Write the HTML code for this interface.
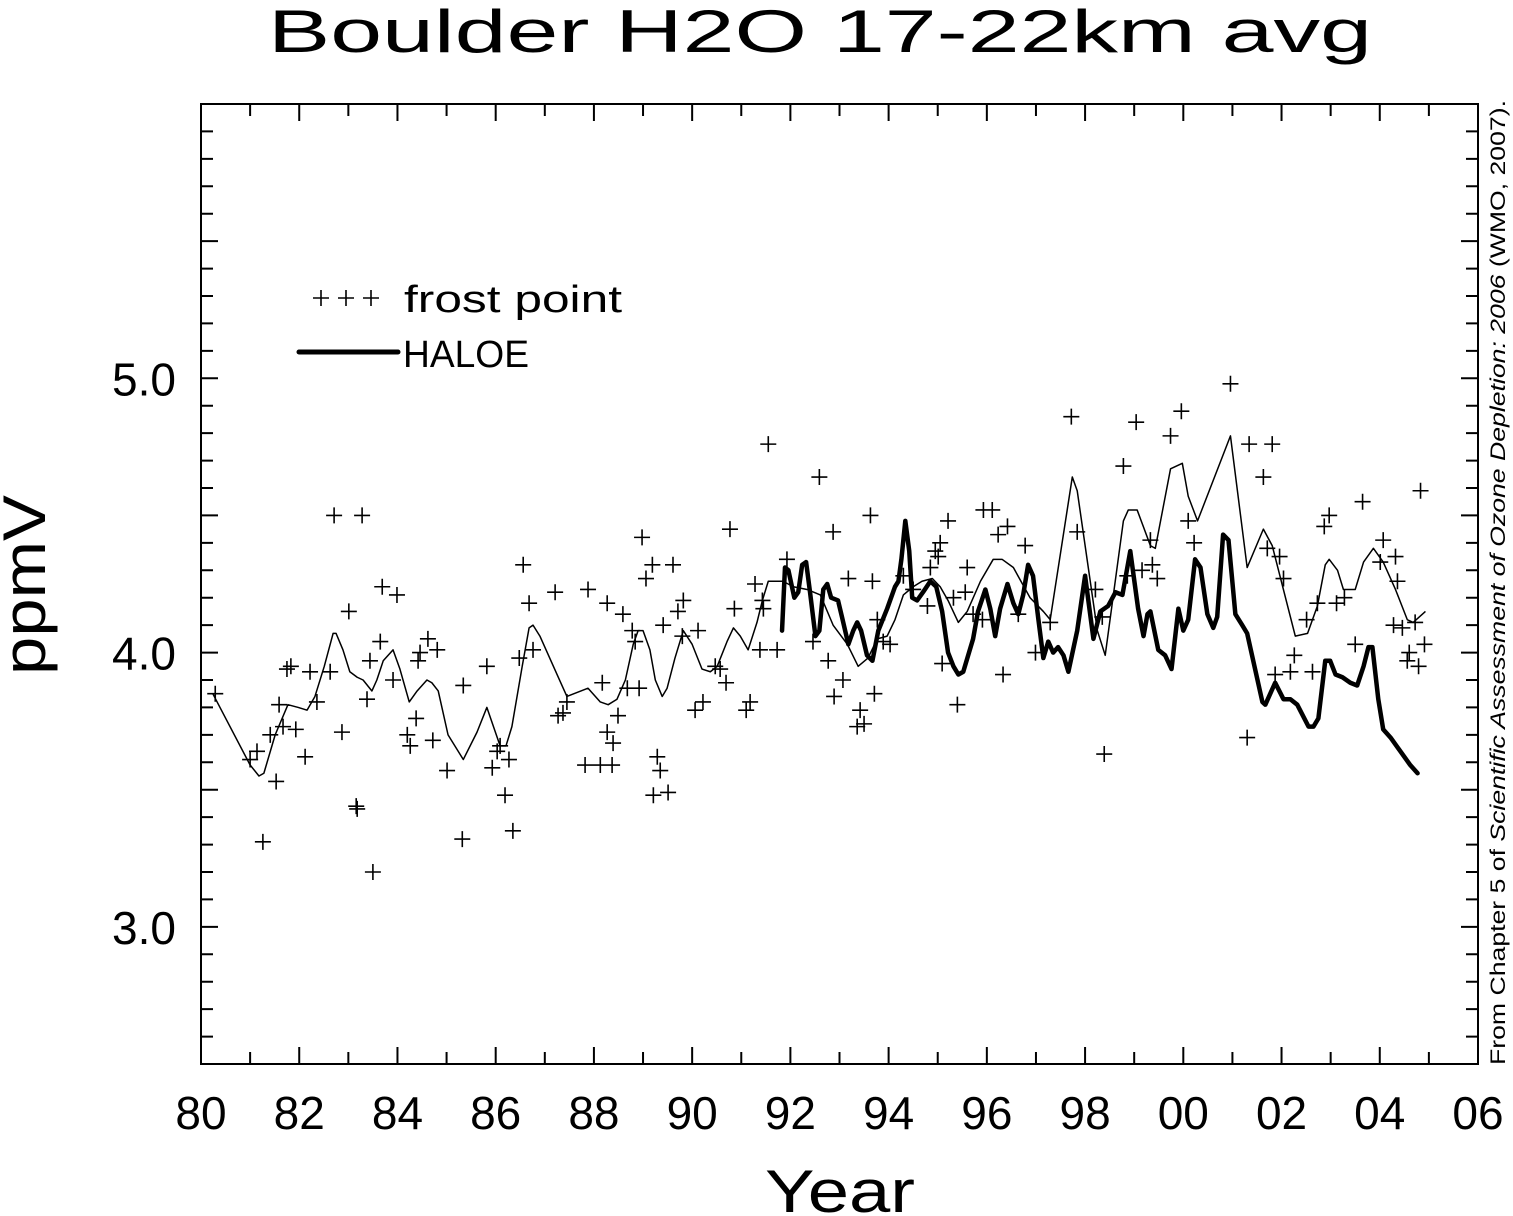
<!DOCTYPE html>
<html><head><meta charset="utf-8"><style>
html,body{margin:0;padding:0;background:#fff;}
svg{display:block;font-family:"Liberation Sans",sans-serif;}
</style></head><body>
<svg id="chart" width="1513" height="1216" viewBox="0 0 1513 1216" xmlns="http://www.w3.org/2000/svg">
<rect width="1513" height="1216" fill="#fff"/>
<text x="820" y="52" font-size="60" text-anchor="middle" textLength="1104" lengthAdjust="spacingAndGlyphs" fill="#000">Boulder H2O  17-22km avg</text>
<g id="axes"></g>
<g id="series"></g>
<text x="840" y="1212" font-size="60" text-anchor="middle" textLength="150" lengthAdjust="spacingAndGlyphs">Year</text>
<text transform="translate(45,585) rotate(-90)" font-size="60" text-anchor="middle" textLength="180" lengthAdjust="spacingAndGlyphs">ppmV</text>
<text transform="translate(1505,1065) rotate(-90)" font-size="21" textLength="965" lengthAdjust="spacingAndGlyphs">From Chapter 5 of <tspan font-style="italic">Scientific Assessment of Ozone Depletion: 2006</tspan> (WMO, 2007).</text>
<g>
  <g stroke="#000" stroke-width="1.6">
    <path d="M313 298h16M321 290v16M338 298h16M346 290v16M363 298h16M371 290v16"/>
  </g>
  <text x="404" y="312" font-size="38" textLength="218" lengthAdjust="spacingAndGlyphs">frost point</text>
  <line x1="299" y1="352" x2="398" y2="352" stroke="#000" stroke-width="5" stroke-linecap="round"/>
  <text x="403" y="367" font-size="38" textLength="126" lengthAdjust="spacingAndGlyphs">HALOE</text>
</g>
</svg>
<script>
const xTickYears=[80,82,84,86,88,90,92,94,96,98,100,102,104,106];
const xTickLabels=["80","82","84","86","88","90","92","94","96","98","00","02","04","06"];
const yTickValues=[3.0,4.0,5.0];
const yTickLabels=["3.0","4.0","5.0"];
const frostYears=[80.29,81.00,81.14,81.26,81.41,81.53,81.59,81.67,81.75,81.83,81.93,82.12,82.22,82.36,82.71,82.87,82.63,83.16,83.28,83.69,83.99,83.01,83.38,83.44,83.65,83.91,83.50,83.18,84.42,84.46,84.62,84.81,84.38,84.20,84.26,84.72,85.01,85.34,85.32,85.82,85.93,86.03,86.09,86.27,86.19,86.35,86.48,86.68,86.56,86.76,87.21,87.27,87.37,87.82,87.88,87.45,88.17,88.13,88.27,88.37,88.39,88.27,88.49,88.59,88.78,88.84,88.68,88.92,88.98,89.06,89.19,89.61,89.41,89.82,89.71,89.80,90.12,90.47,90.57,90.69,90.22,90.06,90.77,90.86,91.18,91.10,91.28,91.43,91.45,91.38,91.73,91.55,91.93,89.29,89.35,89.21,89.51,92.59,92.46,92.77,93.07,92.89,92.87,93.18,93.42,93.50,93.36,93.71,93.63,93.67,93.77,93.89,94.03,94.30,94.50,94.79,94.85,94.95,95.05,95.01,95.21,95.32,95.60,95.56,95.72,95.09,95.40,95.93,96.11,96.23,96.42,96.78,96.33,95.91,96.64,96.99,97.29,97.72,97.84,98.39,98.21,98.35,98.78,98.86,99.04,99.16,99.33,99.37,99.47,99.74,99.96,100.10,100.22,100.96,101.30,101.34,101.63,101.71,101.81,101.96,102.04,101.87,102.18,102.26,102.63,102.51,102.73,102.87,102.97,103.12,103.28,103.50,103.65,104.07,104.01,104.32,104.36,104.28,104.46,104.83,104.72,104.91,104.60,104.56,104.79];
const frostValues=[3.85,3.61,3.64,3.31,3.70,3.53,3.81,3.73,3.94,3.95,3.72,3.62,3.93,3.82,4.50,3.71,3.93,3.44,4.50,4.24,4.21,4.15,3.83,3.97,4.04,3.90,3.20,3.43,3.97,4.00,4.05,4.01,3.76,3.70,3.66,3.68,3.57,3.88,3.32,3.95,3.58,3.64,3.66,3.61,3.48,3.35,3.98,4.18,4.32,4.01,4.22,3.77,3.78,3.59,4.23,3.82,3.89,3.59,3.71,3.59,3.67,4.18,3.77,4.14,4.08,4.04,3.87,3.87,4.42,4.27,4.32,4.32,4.10,4.19,4.15,4.06,4.08,3.95,3.94,3.89,3.82,3.79,4.45,4.16,3.82,3.79,4.25,4.19,4.16,4.01,4.01,4.76,4.34,3.62,3.57,3.48,3.49,4.64,4.04,3.97,3.90,3.84,4.44,4.27,3.79,3.74,3.73,3.85,4.50,4.26,4.12,4.04,4.03,4.28,4.23,4.17,4.31,4.37,4.40,4.35,4.48,4.20,4.31,4.22,4.14,3.96,3.81,4.52,4.52,4.43,4.46,4.39,3.92,4.12,4.14,4.00,4.11,4.86,4.44,3.63,4.23,4.13,4.68,4.28,4.84,4.30,4.41,4.32,4.27,4.79,4.88,4.48,4.40,4.98,3.69,4.76,4.64,4.38,4.76,4.35,4.27,3.92,3.93,3.99,3.93,4.12,4.18,4.46,4.50,4.18,4.20,4.03,4.55,4.41,4.33,4.35,4.26,4.10,4.09,4.59,4.11,4.03,4.00,3.97,3.95];
const smoothYears=[80.24,81.00,81.18,81.28,81.51,81.77,81.98,82.16,82.32,82.51,82.69,82.75,82.89,83.03,83.18,83.30,83.48,83.58,83.71,83.91,84.05,84.24,84.40,84.60,84.70,84.83,85.03,85.34,85.62,85.82,86.09,86.21,86.33,86.54,86.68,86.76,86.90,87.25,87.45,87.88,88.13,88.29,88.47,88.64,88.80,88.90,89.00,89.14,89.25,89.39,89.49,89.65,89.82,90.00,90.20,90.37,90.51,90.71,90.84,90.98,91.14,91.32,91.43,91.55,91.85,92.06,92.34,92.61,92.87,93.16,93.38,93.58,93.77,93.97,94.13,94.30,94.50,94.68,94.89,95.05,95.21,95.42,95.60,95.87,96.13,96.31,96.54,96.88,97.15,97.29,97.74,97.84,98.25,98.41,98.78,98.88,99.06,99.33,99.43,99.74,99.98,100.10,100.29,100.96,101.30,101.63,101.81,102.28,102.53,102.73,102.89,102.97,103.14,103.26,103.50,103.67,103.87,104.07,104.32,104.56,104.68,104.93];
const smoothValues=[3.85,3.59,3.55,3.56,3.70,3.81,3.80,3.79,3.84,3.95,4.07,4.07,4.01,3.93,3.91,3.90,3.86,3.90,3.97,4.01,3.94,3.82,3.86,3.90,3.89,3.86,3.70,3.61,3.71,3.80,3.66,3.66,3.73,3.95,4.09,4.10,4.06,3.92,3.84,3.87,3.82,3.81,3.83,3.90,4.03,4.08,4.08,4.01,3.90,3.84,3.87,3.98,4.08,4.03,3.94,3.93,3.95,4.04,4.09,4.06,4.01,4.11,4.19,4.26,4.26,4.24,4.23,4.21,4.10,4.03,3.95,3.98,4.05,4.06,4.12,4.21,4.24,4.26,4.27,4.24,4.19,4.11,4.15,4.26,4.34,4.34,4.31,4.20,4.15,4.12,4.64,4.59,4.08,3.99,4.48,4.52,4.52,4.39,4.38,4.67,4.69,4.57,4.48,4.79,4.31,4.45,4.39,4.06,4.07,4.17,4.32,4.34,4.30,4.23,4.23,4.33,4.38,4.33,4.23,4.12,4.11,4.15];
const haloeYears=[91.83,91.89,91.96,92.08,92.16,92.24,92.32,92.40,92.51,92.59,92.67,92.75,92.83,92.97,93.05,93.18,93.28,93.36,93.44,93.56,93.67,93.79,93.97,94.13,94.20,94.26,94.34,94.42,94.48,94.58,94.70,94.85,94.97,95.09,95.21,95.32,95.42,95.52,95.72,95.82,95.97,96.07,96.17,96.27,96.42,96.54,96.64,96.74,96.84,96.94,97.05,97.15,97.25,97.35,97.45,97.56,97.66,97.84,98.00,98.17,98.31,98.47,98.62,98.76,98.92,99.08,99.19,99.27,99.33,99.49,99.63,99.76,99.90,100.00,100.10,100.24,100.35,100.49,100.61,100.69,100.81,100.92,101.06,101.20,101.30,101.61,101.67,101.87,102.04,102.18,102.32,102.55,102.65,102.75,102.89,102.99,103.10,103.24,103.40,103.54,103.67,103.77,103.85,103.97,104.07,104.22,104.42,104.62,104.77];
const haloeValues=[4.08,4.31,4.30,4.20,4.22,4.32,4.33,4.22,4.06,4.08,4.23,4.25,4.20,4.19,4.13,4.03,4.08,4.11,4.08,3.99,3.97,4.08,4.16,4.24,4.26,4.34,4.48,4.37,4.20,4.19,4.22,4.26,4.24,4.15,4.00,3.95,3.92,3.93,4.05,4.15,4.23,4.16,4.06,4.16,4.25,4.18,4.14,4.21,4.32,4.28,4.12,3.98,4.04,4.00,4.02,3.99,3.93,4.08,4.28,4.05,4.15,4.17,4.22,4.21,4.37,4.16,4.06,4.14,4.15,4.01,3.99,3.94,4.16,4.08,4.12,4.34,4.31,4.14,4.09,4.13,4.43,4.41,4.14,4.10,4.07,3.82,3.81,3.89,3.83,3.83,3.81,3.73,3.73,3.76,3.97,3.97,3.92,3.91,3.89,3.88,3.95,4.02,4.02,3.83,3.72,3.69,3.64,3.59,3.56];

const NS="http://www.w3.org/2000/svg";
const L=201,R=1478,T=104,B=1064,X0=80,X1=106,Y0=2.5,Y1=6.0;
function sx(v){return L+(v-X0)/(X1-X0)*(R-L);}
function sy(v){return B-(v-Y0)/(Y1-Y0)*(B-T);}
function mk(tag,attrs,parent){const e=document.createElementNS(NS,tag);for(const k in attrs)e.setAttribute(k,attrs[k]);parent.appendChild(e);return e;}
const axes=document.getElementById('axes');
const frame=mk('rect',{x:L,y:T,width:R-L,height:B-T,fill:'none',stroke:'#000','stroke-width':2},axes);


let tp='';
for(let yr=X0+1;yr<X1;yr++){const x=sx(yr);const len=(yr%2===0)?17:12;tp+=`M${x} ${B}v${-len}M${x} ${T}v${len}`;}
for(let i=1;i<35;i++){const v=Y0+i*0.1;const y=sy(v);const len=(i%5===0)?17:12;tp+=`M${L} ${y}h${len}M${R} ${y}h${-len}`;}
const ticks=mk('path',{d:tp,stroke:'#000','stroke-width':2,fill:'none'},axes);


xTickYears.forEach((yr,i)=>{const t=mk('text',{x:sx(yr),y:1129,'font-size':46,'text-anchor':'middle'},axes);t.textContent=xTickLabels[i];

});
yTickValues.forEach((v,i)=>{const t=mk('text',{x:176,y:sy(v)+17,'font-size':46,'text-anchor':'end'},axes);t.textContent=yTickLabels[i];

});
const series=document.getElementById('series');
let fp='';
frostYears.forEach((yr,i)=>{const x=sx(yr),y=sy(frostValues[i]);fp+=`M${x-8} ${y}h16M${x} ${y-8}v16`;});
const fr=mk('path',{d:fp,stroke:'#000','stroke-width':1.6,fill:'none'},series);


const sm=mk('polyline',{points:smoothYears.map((yr,i)=>sx(yr)+','+sy(smoothValues[i])).join(' '),fill:'none',stroke:'#000','stroke-width':1.5,'stroke-linejoin':'round'},series);


const ha=mk('polyline',{points:haloeYears.map((yr,i)=>sx(yr)+','+sy(haloeValues[i])).join(' '),fill:'none',stroke:'#000','stroke-width':4.5,'stroke-linejoin':'round','stroke-linecap':'round'},series);


</script>
</body></html>
